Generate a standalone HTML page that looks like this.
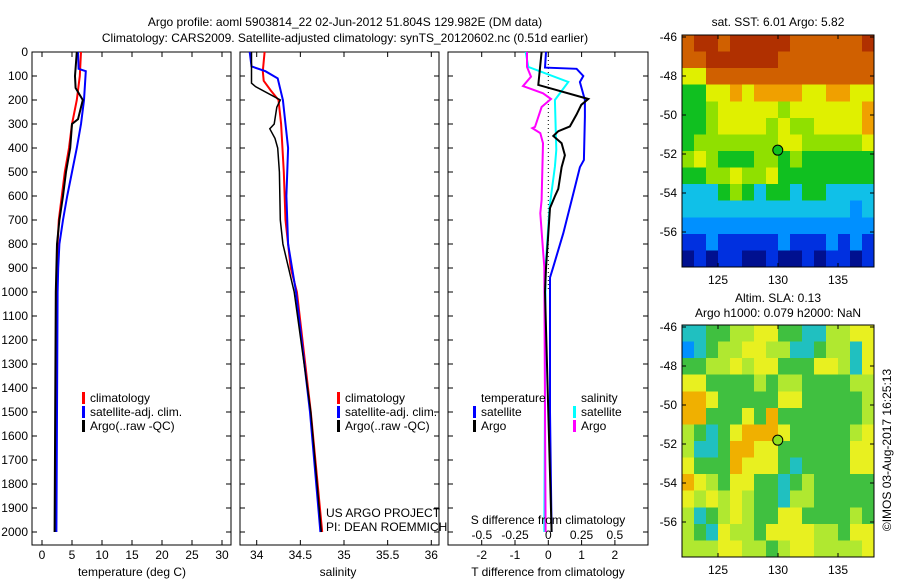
<!DOCTYPE html>
<html><head><meta charset="utf-8">
<style>
body{margin:0;background:#fff;}
svg{display:block;font-family:"Liberation Sans",sans-serif;}
text{font-size:12px;fill:#000;}
</style></head><body>
<svg id="fig" width="900" height="580" xmlns="http://www.w3.org/2000/svg">
<text x="345" y="26" text-anchor="middle">Argo profile: aoml 5903814_22 02-Jun-2012 51.804S 129.982E (DM data)</text>
<text x="345" y="42" text-anchor="middle">Climatology: CARS2009. Satellite-adjusted climatology: synTS_20120602.nc (0.51d earlier)</text>
<g id="g"></g>
</svg>
<script>
// ---------- data ----------
const depthTicks=[0,100,200,300,400,500,600,700,800,900,1000,1100,1200,1300,1400,1500,1600,1700,1800,1900,2000];
const tTicks=[0,5,10,15,20,25,30];
const sTicks=[34,34.5,35,35.5,36];
const sTickLabels=["34","34.5","35","35.5","36"];
const dTTicks=[-2,-1,0,1,2];
const dSTicks=[-0.5,-0.25,0,0.25,0.5];
const dSTickLabels=["-0.5","-0.25","0","0.25","0.5"];

const tClimDepth=[0,100,200,300,400,500,600,700,800,1000,1500,2000];
const tClimVal=[6.5,6.3,5.8,5.0,4.5,3.8,3.3,2.8,2.6,2.4,2.3,2.2];
const tSatDepth=[0,70,80,200,300,400,500,600,700,800,900,1000,2000];
const tSatVal=[6.0,6.1,7.3,7.0,6.5,5.8,5.0,4.2,3.5,2.9,2.7,2.6,2.4];
const tArgoDepth=[0,100,150,200,280,300,400,500,600,700,800,1000,2000];
const tArgoVal=[5.8,5.5,5.6,6.8,6.0,5.0,4.7,4.0,3.5,2.9,2.5,2.3,2.1];

const sClimDepth=[0,80,120,160,200,300,500,700,900,1000,1500,2000];
const sClimVal=[34.09,34.07,34.08,34.16,34.25,34.28,34.31,34.33,34.39,34.46,34.62,34.75];
const sSatDepth=[0,60,80,110,200,400,600,800,1000,1500,2000];
const sSatVal=[33.92,33.94,34.10,34.24,34.30,34.36,34.34,34.36,34.45,34.61,34.73];
const sArgoDepth=[0,130,145,200,230,300,320,360,400,500,700,800,1000,1500,2000];
const sArgoVal=[33.94,33.94,33.99,34.27,34.23,34.20,34.15,34.21,34.24,34.26,34.27,34.30,34.43,34.62,34.74];

const dTSatDepth=[0,65,70,100,125,200,270,450,480,590,755,895,940,1500,2000];
const dTSatVal=[-0.07,-0.1,0.85,1.05,0.95,1.1,1.1,1.07,0.95,0.75,0.45,0.15,0.05,0.05,0.1];
const dTArgoDepth=[0,137,196,220,260,310,330,350,380,430,480,570,600,650,900,1000,1500,2000];
const dTArgoVal=[-0.2,-0.3,1.2,0.99,0.85,0.65,0.3,0.15,0.4,0.5,0.4,0.3,0.2,0.05,-0.07,-0.1,0,0.1];
const dSSatDepth=[0,62,125,200,408,478,645,895,2000];
const dSSatVal=[-0.17,-0.15,0.15,0.05,0.06,0.05,0.01,-0.02,-0.03];
const dSArgoDepth=[0,62,103,142,172,196,229,312,317,338,380,617,672,825,895,2000];
const dSArgoVal=[-0.16,-0.16,-0.13,-0.19,-0.04,0.02,-0.05,-0.1,-0.12,-0.06,-0.04,-0.05,-0.06,-0.04,-0.03,-0.02];

const latTicks=[-46,-48,-50,-52,-54,-56];
const lonTicks=[125,130,135];
const sstGrid=[
"8998999998888889","8899999988888888","6688888888888888","4466767777667766",
"4456666656666667","4456666565566667","4555555566555556","5654445545444444",
"4455655644444444","3334543443443333","3333333333333323","2222222222222222",
"1121111121112121","0101100100101101"];
const slaGrid=[
"3344556644335566","2345566553345536","4455656644466536","6644445455444455",
"7764444466444445","7744464744444445","5434677764444456","5334776644444466",
"6444766643444466","7654664434544444","6565654435544444","5345654466444454",
"5436554666655466","5556655456655556"];
const argoLon=129.982, argoLat=-51.804;

// ---------- helpers ----------
const NS="http://www.w3.org/2000/svg";
const G=document.getElementById('g');
function mk(tag,attrs,parent){const e=document.createElementNS(NS,tag);for(const k in attrs)e.setAttribute(k,attrs[k]);(parent||G).appendChild(e);return e;}
const Y=d=>52+d*0.24;
const xT=v=>42+v*6;
const xS=v=>256.7+(v-34)*87.3;
const xDT=v=>548.3+v*33.3;
const xDS=v=>548.3+v*133;

function frame(x0,x1,name){
  const r=mk('rect',{x:x0,y:52,width:x1-x0,height:493,fill:'none',stroke:'#000','stroke-width':1});
  
  
  depthTicks.forEach(d=>{
    mk('line',{x1:x0,x2:x0+5,y1:Y(d),y2:Y(d),stroke:'#000'});
    mk('line',{x1:x1-5,x2:x1,y1:Y(d),y2:Y(d),stroke:'#000'});
  });
}
function xticks(vals,labels,fx,ly,top,name){
  vals.forEach((v,i)=>{
    const x=fx(v);
    mk('line',{x1:x,x2:x,y1:545,y2:540,stroke:'#000'});
    if(top) mk('line',{x1:x,x2:x,y1:52,y2:57,stroke:'#000'});
    const t=mk('text',{x:x,y:ly,'text-anchor':'middle'});t.textContent=labels[i];
    
    
  });
}
function line(depths,vals,fx,color,w,name){
  let d='';
  for(let i=0;i<depths.length;i++){d+=(i?'L':'M')+fx(vals[i]).toFixed(1)+','+Y(depths[i]).toFixed(1);}
  const p=mk('path',{d:d,fill:'none',stroke:color,'stroke-width':w});
  
  
}
function txt(x,y,s,name,anchor){const t=mk('text',{x:x,y:y,'text-anchor':anchor||'start'});t.textContent=s;
  
  return t;}
function legendMark(x,y,color){mk('rect',{x:x,y:y-10,width:3,height:12,fill:color});}

depthTicks.forEach(d=>{txt(28,Y(d)+4,String(d),'depth-tick-label','end');});

// panel 1 temperature
frame(32,231,'temperature-panel');
xticks(tTicks,tTicks.map(String),xT,559,true,'temperature-tick-label');
line(tClimDepth,tClimVal,xT,'#f00',2,'temp-climatology-line');
line(tSatDepth,tSatVal,xT,'#00f',2,'temp-satellite-line');
line(tArgoDepth,tArgoVal,xT,'#000',2,'temp-argo-line');
txt(132,576,'temperature (deg C)','temperature-axis-title','middle');
[['#f00','climatology'],['#00f','satellite-adj. clim.'],['#000','Argo(..raw -QC)']].forEach((l,i)=>{
  legendMark(82,402+i*14,l[0]);txt(90,402+i*14,l[1],'temp-legend-entry');
});

// panel 2 salinity
frame(240,439,'salinity-panel');
xticks(sTicks,sTickLabels,xS,559,true,'salinity-tick-label');
line(sClimDepth,sClimVal,xS,'#f00',2,'sal-climatology-line');
line(sSatDepth,sSatVal,xS,'#00f',2,'sal-satellite-line');
line(sArgoDepth,sArgoVal,xS,'#000',1.5,'sal-argo-line');
txt(338,576,'salinity','salinity-axis-title','middle');
[['#f00','climatology'],['#00f','satellite-adj. clim.'],['#000','Argo(..raw -QC)']].forEach((l,i)=>{
  legendMark(337,402+i*14,l[0]);txt(345,402+i*14,l[1],'sal-legend-entry');
});
txt(326,517,'US ARGO PROJECT','project-credit');
txt(326,531,'PI: DEAN ROEMMICH','pi-credit');

// panel 3 differences
frame(448,648,'difference-panel');
xticks(dTTicks,dTTicks.map(String),xDT,559,true,'tdiff-tick-label');
dSTicks.forEach((v,i)=>{txt(xDS(v),539,dSTickLabels[i],'sdiff-tick-label','middle');});
mk('line',{x1:xDT(0),x2:xDT(0),y1:Y(0),y2:Y(1000),stroke:'#000','stroke-dasharray':'1,3'});
line(dSSatDepth,dSSatVal,xDS,'#0ff',2,'sdiff-satellite-line');
line(dSArgoDepth,dSArgoVal,xDS,'#f0f',2,'sdiff-argo-line');
line(dTSatDepth,dTSatVal,xDT,'#00f',2,'tdiff-satellite-line');
line(dTArgoDepth,dTArgoVal,xDT,'#000',2,'tdiff-argo-line');
txt(548,524,'S difference from climatology','sdiff-axis-title','middle');
txt(548,576,'T difference from climatology','tdiff-axis-title','middle');
txt(481,402,'temperature','legend-temperature-header');
txt(581,402,'salinity','legend-salinity-header');
legendMark(473,416,'#00f');txt(481,416,'satellite','legend-tdiff-satellite');
legendMark(473,430,'#000');txt(481,430,'Argo','legend-tdiff-argo');
legendMark(573,416,'#0ff');txt(581,416,'satellite','legend-sdiff-satellite');
legendMark(573,430,'#f0f');txt(581,430,'Argo','legend-sdiff-argo');

// maps
const sstPalette=['#00108f','#0030e0','#0090ff','#10c0e8','#10c020','#90e000','#e0f000','#f0a000','#d06000','#b03000'];
const slaPalette=['#00108f','#0030e0','#0090ff','#20c0c0','#40c040','#b0e830','#e8f020','#f0b000','#e08000','#b03000'];
function map(grid,top,name,dotColor,pal){
  const x0=682,x1=874,bot=top+232;
  const lonX=l=>682+(l-122)*12;
  const latY=l=>top+2+(-46-l)*19.5;
  const rows=grid.length,cols=grid[0].length;
  const cw=(x1-x0)/cols,ch=(bot-top)/rows;
  const gg=mk('g',{});
  
  
  grid.forEach((row,ri)=>{for(let ci=0;ci<cols;ci++){
    mk('rect',{x:x0+ci*cw,y:top+ri*ch,width:cw+0.5,height:ch+0.5,fill:pal[+row[ci]],'shape-rendering':'crispEdges'},gg);
  }});
  mk('rect',{x:x0,y:top,width:x1-x0,height:bot-top,fill:'none',stroke:'#000'});
  latTicks.forEach(l=>{const y=latY(l);
    mk('line',{x1:x0,x2:x0+4,y1:y,y2:y,stroke:'#000'});mk('line',{x1:x1-4,x2:x1,y1:y,y2:y,stroke:'#000'});
    txt(677,y+4,String(l),'latitude-tick-label','end');});
  lonTicks.forEach(l=>{const x=lonX(l);
    mk('line',{x1:x,x2:x,y1:top,y2:top+4,stroke:'#000'});mk('line',{x1:x,x2:x,y1:bot-4,y2:bot,stroke:'#000'});
    txt(x,bot+17,String(l),'longitude-tick-label','middle');});
  const c=mk('circle',{cx:lonX(argoLon),cy:latY(argoLat),r:5,fill:dotColor,stroke:'#000'});
  
  
}
map(sstGrid,35,'sst-map','#10c020',sstPalette);
map(slaGrid,325,'sla-map','#90e020',slaPalette);
txt(778,26,'sat. SST: 6.01  Argo: 5.82','sst-map-title','middle');
txt(778,302,'Altim. SLA: 0.13','sla-map-title','middle');
txt(778,317,'Argo h1000: 0.079 h2000: NaN','sla-map-subtitle','middle');
const cp=txt(0,0,'©IMOS 03-Aug-2017 16:25:13','copyright-label','middle');
cp.setAttribute('transform','translate(891,450) rotate(-90)');
</script>
</body></html>
